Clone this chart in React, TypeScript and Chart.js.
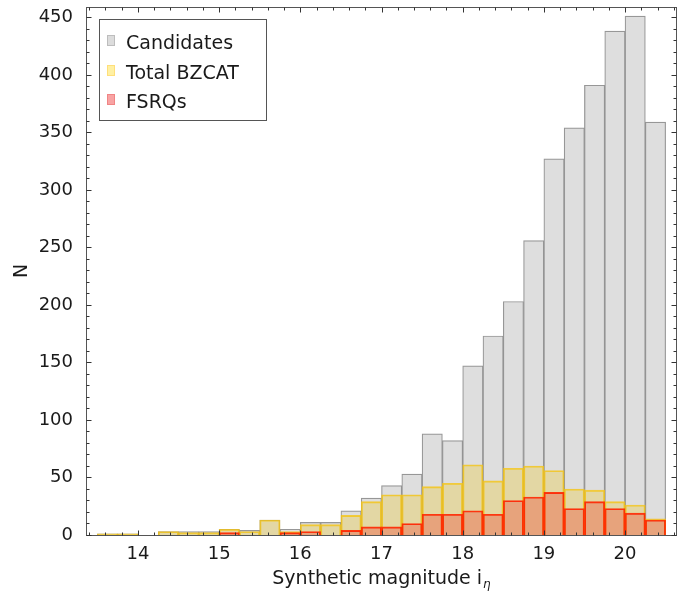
import { useEffect, useRef } from 'react';
import { Chart, registerables } from 'chart.js';

Chart.register(...registerables);

// Histogram bins (left edges, width 0.25 mag)
const BIN_WIDTH = 0.25;
const binStarts = [
  13.5, 13.75, 14.0, 14.25, 14.5, 14.75, 15.0, 15.25, 15.5, 15.75,
  16.0, 16.25, 16.5, 16.75, 17.0, 17.25, 17.5, 17.75, 18.0, 18.25,
  18.5, 18.75, 19.0, 19.25, 19.5, 19.75, 20.0, 20.25,
];

// Counts per bin
const candidates = [
  1, 1, 0, 3, 3, 3, 5, 4, 13, 5,
  11, 11, 21, 32, 43, 53, 88, 82, 147, 173,
  203, 256, 327, 354, 391, 438, 451, 359,
];
const totalBzcat = [
  1, 1, 0, 3, 2, 2, 5, 3, 13, 3,
  9, 9, 17, 29, 35, 35, 42, 45, 61, 47,
  58, 60, 56, 40, 39, 29, 26, 14,
];
const fsrqs = [
  0, 0, 0, 0, 0, 0, 2, 0, 0, 2,
  3, 0, 4, 7, 7, 10, 18, 18, 21, 18,
  30, 33, 37, 23, 29, 23, 19, 13,
];

const xTickValues = [14, 15, 16, 17, 18, 19, 20];
const yTickValues = [0, 50, 100, 150, 200, 250, 300, 350, 400, 450];

const X_MIN = 13.36;
const X_MAX = 20.64;
const Y_MAX = 459;

const FONT = "'DejaVu Sans', sans-serif";

const STYLE = {
  candidates: { fill: '#dedede', edge: 'rgba(140,140,140,0.9)' },
  bzcat: { fill: 'rgba(245,198,0,0.26)', edge: 'rgba(245,196,20,0.8)' },
  fsrq: { fill: 'rgba(245,0,0,0.24)', edge: 'rgba(255,40,0,0.9)' },
};

const legendEntries = [
  { label: 'Candidates', fill: '#dcdcdc', edge: '#bdbdbd' },
  { label: 'Total BZCAT', fill: '#fff0a3', edge: '#ffdf7a' },
  { label: 'FSRQs', fill: '#f8a3a3', edge: '#f08585' },
];

function toPoints(counts: number[]) {
  return binStarts
    .map((s, i) => ({ x: s + BIN_WIDTH / 2, y: counts[i] }))
    .filter((p) => p.y > 0);
}

// Frame with inward ticks on all four sides, axis titles and boxed legend
const framePlugin = {
  id: 'frameAndLegend',
  afterDraw(chart: any) {
    const { ctx, chartArea: a, scales } = chart;
    const xs = scales.x;
    const ys = scales.y;
    const L = Math.round(a.left) + 0.5;
    const R = Math.round(a.right) - 0.5;
    const T = Math.round(a.top) + 0.5;
    const B = Math.round(a.bottom) + 0.5;
    ctx.save();

    ctx.strokeStyle = '#555';
    ctx.lineWidth = 1;
    ctx.strokeRect(L, T, R - L, B - T);

    ctx.strokeStyle = '#333';
    ctx.beginPath();
    // x ticks every 0.2, majors at integers
    for (let k = Math.ceil(X_MIN * 5); k <= Math.floor(X_MAX * 5); k++) {
      const len = k % 5 === 0 ? 5 : 3;
      const px = Math.round(xs.getPixelForValue(k / 5)) + 0.5;
      ctx.moveTo(px, B);
      ctx.lineTo(px, B - len);
      ctx.moveTo(px, T);
      ctx.lineTo(px, T + len);
    }
    // y ticks every 10, majors every 50
    for (let v = 0; v <= Y_MAX; v += 10) {
      const len = v % 50 === 0 ? 5 : 3;
      const py = Math.round(ys.getPixelForValue(v)) + 0.5;
      ctx.moveTo(L, py);
      ctx.lineTo(L + len, py);
      ctx.moveTo(R, py);
      ctx.lineTo(R - len, py);
    }
    ctx.stroke();

    // axis titles
    ctx.fillStyle = '#1a1a1a';
    ctx.textBaseline = 'alphabetic';
    ctx.textAlign = 'left';
    ctx.font = `19px ${FONT}`;
    const main = 'Synthetic magnitude i';
    const w1 = ctx.measureText(main).width;
    ctx.font = `italic 12px ${FONT}`;
    const w2 = ctx.measureText('η').width;
    const cx = (a.left + a.right) / 2;
    const x0 = cx - (w1 + w2 + 1) / 2;
    ctx.font = `19px ${FONT}`;
    ctx.fillText(main, x0, 584);
    ctx.font = `italic 12px ${FONT}`;
    ctx.fillText('η', x0 + w1 + 1, 588);

    ctx.save();
    ctx.translate(22, (a.top + a.bottom) / 2);
    ctx.rotate(-Math.PI / 2);
    ctx.textAlign = 'center';
    ctx.textBaseline = 'middle';
    ctx.font = `19px ${FONT}`;
    ctx.fillText('N', 0, 0);
    ctx.restore();

    // legend
    const bx = 99.5, by = 19.5, bw = 167, bh = 101;
    ctx.fillStyle = '#fff';
    ctx.fillRect(bx, by, bw, bh);
    ctx.strokeStyle = '#555';
    ctx.strokeRect(bx, by, bw, bh);
    legendEntries.forEach((e, i) => {
      const base = 49 + i * 29.5;
      const sy = Math.round(base - 14) + 0.5;
      ctx.fillStyle = e.fill;
      ctx.fillRect(107.5, sy, 7, 10);
      ctx.strokeStyle = e.edge;
      ctx.strokeRect(107.5, sy, 7, 10);
      ctx.fillStyle = '#1a1a1a';
      ctx.font = `19px ${FONT}`;
      ctx.textAlign = 'left';
      ctx.textBaseline = 'alphabetic';
      ctx.fillText(e.label, 126, base);
    });

    ctx.restore();
  },
};

export default function App() {
  const canvasRef = useRef<HTMLCanvasElement | null>(null);

  useEffect(() => {
    const canvas = canvasRef.current;
    if (!canvas) return;
    const barCommon = {
      barPercentage: 1,
      categoryPercentage: 1,
      borderWidth: 1.2,
      grouped: false,
    };
    const chart = new Chart(canvas, {
      type: 'bar',
      data: {
        datasets: [
          {
            label: 'FSRQs',
            data: toPoints(fsrqs),
            backgroundColor: STYLE.fsrq.fill,
            borderColor: STYLE.fsrq.edge,
            ...barCommon,
          },
          {
            label: 'Total BZCAT',
            data: toPoints(totalBzcat),
            backgroundColor: STYLE.bzcat.fill,
            borderColor: STYLE.bzcat.edge,
            ...barCommon,
          },
          {
            label: 'Candidates',
            data: toPoints(candidates),
            backgroundColor: STYLE.candidates.fill,
            borderColor: STYLE.candidates.edge,
            ...barCommon,
          },
        ],
      } as any,
      options: {
        responsive: false,
        animation: false,
        layout: { padding: { left: 0, right: 1, top: 7, bottom: 0 } },
        plugins: {
          legend: { display: false },
          tooltip: { enabled: false },
        },
        scales: {
          x: {
            type: 'linear',
            min: X_MIN,
            max: X_MAX,
            offset: false,
            grid: { display: false, drawTicks: false },
            border: { display: false },
            ticks: {
              padding: 9,
              color: '#1a1a1a',
              font: { family: FONT, size: 18 },
              maxRotation: 0,
              autoSkip: false,
            },
            afterBuildTicks: (scale: any) => {
              scale.ticks = xTickValues.map((v) => ({ value: v }));
            },
            afterFit: (scale: any) => {
              scale.height = 59;
              scale.paddingLeft = 0;
              scale.paddingRight = 0;
            },
          },
          y: {
            type: 'linear',
            min: 0,
            max: Y_MAX,
            grid: { display: false, drawTicks: false },
            border: { display: false },
            ticks: {
              padding: 13,
              color: '#1a1a1a',
              font: { family: FONT, size: 18 },
              autoSkip: false,
            },
            afterBuildTicks: (scale: any) => {
              scale.ticks = yTickValues.map((v) => ({ value: v }));
            },
            afterFit: (scale: any) => {
              scale.width = 86;
              scale.paddingTop = 0;
              scale.paddingBottom = 0;
            },
          },
        },
      } as any,
      plugins: [framePlugin],
    });
    return () => chart.destroy();
  }, []);

  return (
    <div style={{ position: 'absolute', left: 0, top: 0, width: 678, height: 594, background: '#fff' }}>
      <canvas ref={canvasRef} width={678} height={594} style={{ display: 'block' }} />
    </div>
  );
}
